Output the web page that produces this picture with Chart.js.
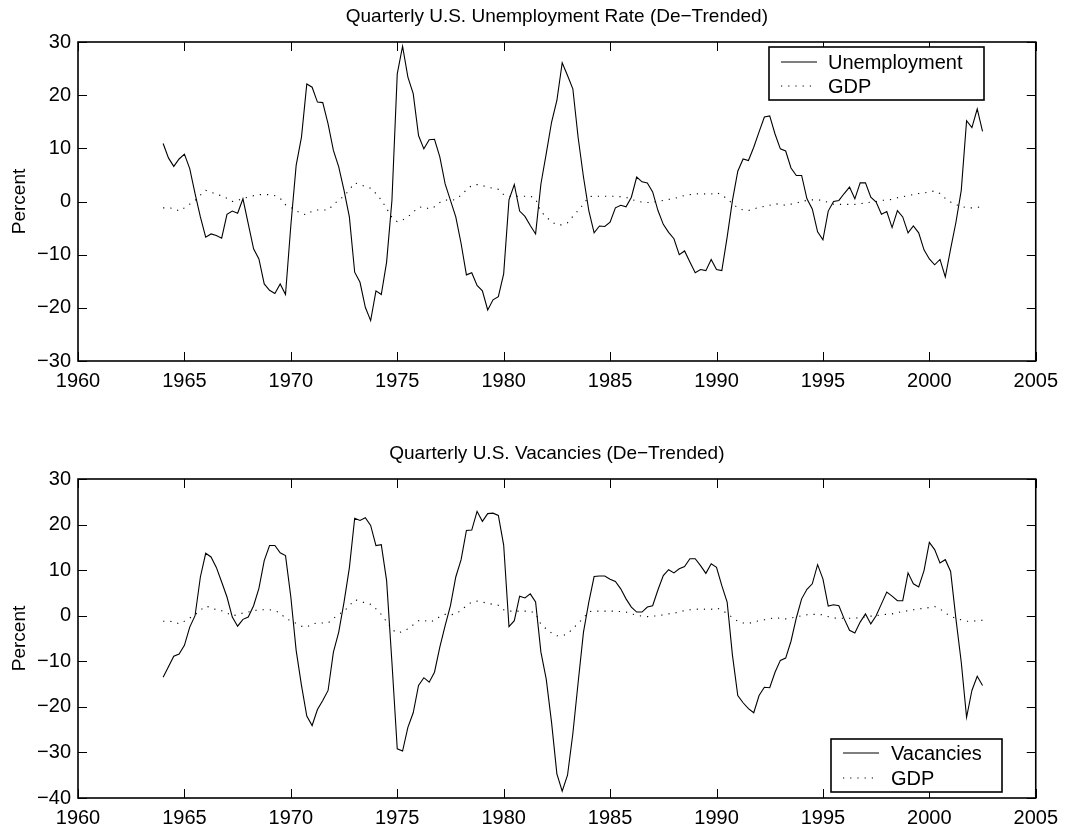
<!DOCTYPE html>
<html>
<head>
<meta charset="utf-8">
<script src="https://cdn.jsdelivr.net/npm/chart.js@4.4.0/dist/chart.umd.min.js"></script>
<style>
  html, body { margin: 0; padding: 0; background: #fff; }
  #wrap { position: relative; width: 1066px; height: 830px; }
  canvas { position: absolute; left: 0; }
  #top { top: 0; }
  #bottom { top: 420px; }
</style>
</head>
<body>
<div id="wrap">
  <canvas id="top" width="1066" height="400"></canvas>
  <canvas id="bottom" width="1066" height="410"></canvas>
</div>
<script>
// quarterly observations, 1964Q1 .. 2002Q3
const startYear = 1964;

const unemployment = [
  10.9, 8.2, 6.6, 8.0, 8.9, 6.2, 1.5, -2.9, -6.7, -6.1,
  -6.4, -6.9, -2.4, -1.8, -2.2, 0.5, -4.2, -8.9, -10.8, -15.5,
  -16.7, -17.3, -15.5, -17.5, -4.5, 6.8, 12.1, 22.1, 21.5, 18.7,
  18.6, 14.6, 9.6, 6.5, 2.1, -2.9, -13.3, -15.2, -19.9, -22.4,
  -16.8, -17.5, -11.4, 0.2, 24.0, 29.2, 23.4, 20.3, 12.4, 9.9,
  11.6, 11.7, 8.4, 3.3, 0.2, -2.9, -7.9, -13.8, -13.4, -15.8,
  -16.8, -20.4, -18.5, -17.9, -13.6, 0.3, 3.2, -1.8, -2.8, -4.5,
  -6.1, 3.3, 9.0, 14.9, 19.0, 26.1, 23.7, 21.2, 12.0, 4.6,
  -1.7, -5.9, -4.6, -4.7, -3.9, -1.2, -0.7, -1.0, 0.8, 4.6,
  3.7, 3.5, 1.8, -1.7, -4.3, -5.8, -7.0, -10.0, -9.3, -11.4,
  -13.4, -12.8, -13.0, -10.9, -12.8, -13.0, -6.7, 0.2, 5.7, 8.0,
  7.7, 10.2, 13.1, 15.9, 16.1, 12.7, 9.9, 9.5, 6.3, 4.9,
  4.9, 0.5, -1.4, -5.7, -7.2, -1.8, 0.0, 0.2, 1.5, 2.7,
  0.5, 3.5, 3.5, 0.8, -0.1, -2.4, -1.9, -4.9, -1.7, -2.9,
  -5.9, -4.6, -5.9, -9.1, -10.8, -11.9, -10.9, -14.2, -8.9, -3.9,
  2.1, 15.2, 13.9, 17.4, 13.2
];

const vacancies = [
  -13.5, -11.2, -8.9, -8.4, -6.5, -2.5, 0.0, 8.5, 13.7, 12.9,
  10.6, 7.4, 4.1, -0.3, -2.3, -0.8, -0.3, 2.2, 6.0, 12.1,
  15.4, 15.4, 13.8, 13.2, 4.1, -7.6, -15.3, -22.0, -24.1, -20.6,
  -18.6, -16.4, -8.0, -3.6, 3.0, 10.5, 21.4, 20.9, 21.5, 19.8,
  15.4, 15.6, 7.7, -10.2, -29.2, -29.7, -24.5, -21.3, -15.3, -13.6,
  -14.6, -12.4, -6.9, -2.2, 2.2, 8.5, 12.3, 18.7, 18.8, 22.9,
  20.7, 22.4, 22.5, 22.0, 15.5, -2.4, -1.1, 4.3, 3.9, 4.8,
  3.0, -8.0, -13.9, -23.4, -34.7, -38.5, -35.0, -25.9, -14.6, -3.6,
  3.0, 8.6, 8.7, 8.7, 8.0, 7.5, 5.9, 3.7, 1.9, 0.8,
  0.8, 1.9, 2.2, 5.7, 8.8, 10.1, 9.4, 10.3, 10.8, 12.5,
  12.5, 11.0, 9.3, 11.4, 10.6, 6.6, 3.0, -8.7, -17.5, -19.1,
  -20.4, -21.3, -17.5, -15.7, -15.8, -12.4, -9.8, -9.3, -5.6, -0.5,
  3.7, 5.8, 7.0, 11.2, 8.1, 2.1, 2.4, 2.2, -0.7, -3.2,
  -3.8, -1.4, 0.4, -1.8, 0.0, 2.6, 5.2, 4.3, 3.3, 3.3,
  9.4, 7.0, 6.3, 9.9, 16.1, 14.5, 11.6, 12.3, 9.7, -0.7,
  -10.2, -22.3, -16.4, -13.3, -15.3
];

const gdp = [
  -1.2, -1.2, -1.3, -1.8, -1.2, -0.5, 0.2, 1.2, 2.1, 1.8,
  1.3, 1.1, 0.6, 0.0, 0.2, 0.6, 0.8, 1.1, 1.3, 1.3,
  1.3, 1.1, 0.6, -0.6, -1.1, -1.7, -2.3, -2.5, -1.8, -1.6,
  -1.6, -1.6, -0.6, 0.3, 1.0, 2.2, 3.5, 3.2, 2.8, 2.5,
  1.5, 0.3, -1.3, -3.0, -3.8, -3.5, -2.9, -2.0, -1.1, -1.0,
  -1.4, -1.0, -0.2, 0.3, 0.2, 0.4, 1.2, 2.2, 3.0, 3.2,
  3.0, 2.7, 2.5, 2.3, 1.3, 1.0, 1.0, 1.0, 1.0, 1.0,
  0.5, -1.9, -2.9, -3.8, -4.4, -4.4, -4.0, -2.8, -1.7, -0.5,
  0.9, 1.0, 1.0, 1.0, 1.0, 1.0, 0.9, 0.8, 0.4, 0.1,
  -0.1, -0.2, -0.1, 0.0, 0.2, 0.4, 0.5, 0.9, 1.1, 1.3,
  1.4, 1.5, 1.4, 1.4, 1.7, 1.2, 0.5, -0.4, -1.2, -1.6,
  -1.7, -1.4, -1.1, -0.9, -0.7, -0.4, -0.6, -0.7, -0.5, -0.3,
  0.0, 0.2, 0.3, 0.3, 0.2, -0.2, -0.5, -0.55, -0.55, -0.55,
  -0.55, -0.4, -0.3, -0.1, 0.0, 0.2, 0.3, 0.4, 0.7, 0.9,
  1.1, 1.3, 1.5, 1.6, 1.8, 2.0, 1.5, 0.6, -0.1, -0.6,
  -0.9, -1.2, -1.2, -1.1, -1.0
];

const quarters = unemployment.map((_, i) => startYear + i / 4);

const FONT = '"Liberation Sans", Arial, Helvetica, sans-serif';
Chart.defaults.font.family = FONT;
Chart.defaults.color = '#000';

function pts(values) {
  return values.map((v, i) => ({ x: quarters[i], y: v }));
}

function minusLabel(v) {
  return v < 0 ? '\u2212' + Math.abs(v) : String(v);
}

// Matlab-like box with inward ticks on all four sides
const boxAxes = {
  id: 'boxAxes',
  afterDatasetsDraw(chart) {
    const { ctx, chartArea: a, scales: { x, y } } = chart;
    const len = 9;
    ctx.save();
    ctx.strokeStyle = '#000';
    ctx.lineWidth = 1;
    ctx.beginPath();
    x.ticks.forEach(t => {
      const px = Math.round(x.getPixelForValue(t.value)) + 0.5;
      ctx.moveTo(px, a.bottom); ctx.lineTo(px, a.bottom - len);
      ctx.moveTo(px, a.top); ctx.lineTo(px, a.top + len);
    });
    y.ticks.forEach(t => {
      const py = Math.round(y.getPixelForValue(t.value)) + 0.5;
      ctx.moveTo(a.left, py); ctx.lineTo(a.left + len, py);
      ctx.moveTo(a.right, py); ctx.lineTo(a.right - len, py);
    });
    ctx.stroke();
    ctx.lineWidth = 1.6;
    ctx.strokeRect(a.left, a.top, a.right - a.left, a.bottom - a.top);
    ctx.restore();
  }
};

const boxLegend = {
  id: 'boxLegend',
  afterDraw(chart, args, o) {
    if (!o || !o.w) return;
    const ctx = chart.ctx;
    ctx.save();
    ctx.fillStyle = '#fff';
    ctx.fillRect(o.x, o.y, o.w, o.h);
    ctx.strokeStyle = '#000';
    ctx.lineWidth = 1.6;
    ctx.strokeRect(o.x, o.y, o.w, o.h);
    ctx.font = '20px ' + FONT;
    ctx.textBaseline = 'middle';
    ctx.fillStyle = '#000';
    chart.data.datasets.forEach((ds, i) => {
      const yy = o.y + o.row0 + i * o.rowGap;
      ctx.beginPath();
      ctx.lineWidth = ds.borderWidth;
      ctx.setLineDash(ds.borderDash || []);
      ctx.moveTo(o.x + o.line0, yy);
      ctx.lineTo(o.x + o.line1, yy);
      ctx.stroke();
      ctx.setLineDash([]);
      ctx.fillText(ds.label, o.x + o.textX, yy + 1);
    });
    ctx.restore();
  }
};

function makeChart(id, cfg) {
  return new Chart(document.getElementById(id), {
    type: 'line',
    data: {
      datasets: [
        { label: cfg.name, data: pts(cfg.series), borderColor: '#000', borderWidth: 1.1,
          pointRadius: 0, tension: 0, fill: false },
        { label: 'GDP', data: pts(gdp), borderColor: '#000', borderWidth: 1.1,
          borderDash: [1.2, 6], pointRadius: 0, tension: 0, fill: false }
      ]
    },
    options: {
      responsive: false,
      animation: false,
      layout: { padding: { left: 0, right: 30, top: 0, bottom: 0 } },
      plugins: {
        legend: { display: false },
        tooltip: { enabled: false },
        title: {
          display: true, text: cfg.title, color: '#000', fullSize: false,
          font: { size: 19, weight: 'normal' },
          padding: cfg.titlePad
        },
        boxLegend: cfg.legend
      },
      scales: {
        x: {
          type: 'linear', min: 1960, max: 2005,
          grid: { display: false, drawTicks: false },
          border: { display: false },
          ticks: { stepSize: 5, autoSkip: false, maxRotation: 0, padding: 8,
                   font: { size: 20 }, color: '#000', callback: v => String(v) },
          afterFit: s => { s.height = cfg.xHeight; }
        },
        y: {
          min: cfg.ymin, max: cfg.ymax,
          grid: { display: false, drawTicks: false },
          border: { display: false },
          ticks: { stepSize: 10, padding: 7, font: { size: 20 }, color: '#000',
                   callback: v => minusLabel(v) },
          title: { display: true, text: 'Percent', color: '#000',
                   font: { size: 19, weight: 'normal' }, padding: { top: 8, bottom: 0 } },
          afterFit: s => { s.width = 78; }
        }
      }
    },
    plugins: [boxAxes, boxLegend]
  });
}

makeChart('top', {
  name: 'Unemployment',
  series: unemployment,
  title: 'Quarterly U.S. Unemployment Rate (De\u2212Trended)',
  titlePad: { top: 5.3, bottom: 13.9 },
  xHeight: 39,
  ymin: -30, ymax: 30,
  legend: { x: 769, y: 47, w: 215, h: 53, row0: 15, rowGap: 24, line0: 12, line1: 48, textX: 59 }
});

makeChart('bottom', {
  name: 'Vacancies',
  series: vacancies,
  title: 'Quarterly U.S. Vacancies (De\u2212Trended)',
  titlePad: { top: 22.6, bottom: 13.6 },
  xHeight: 32,
  ymin: -40, ymax: 30,
  legend: { x: 831, y: 319, w: 171, h: 53, row0: 14, rowGap: 25, line0: 12, line1: 48, textX: 60 }
});
</script>
</body>
</html>
